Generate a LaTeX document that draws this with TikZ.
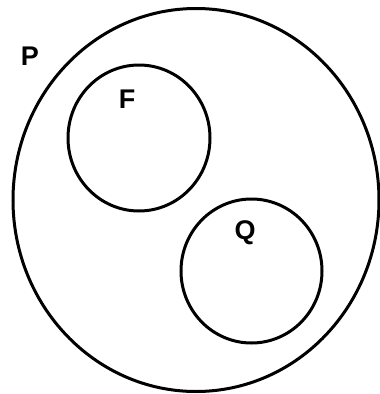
\documentclass[tikz,border=0pt]{standalone}
\usepackage{fontspec}
\setmainfont{Liberation Sans}
\usetikzlibrary{positioning,shapes.geometric}

\begin{document}
\begin{tikzpicture}[
  x=1pt, y=-1pt,
  set/.style={ellipse, draw=black, line width=3pt, inner sep=0pt},
  lbl/.style={font=\fontsize{27}{27}\selectfont\bfseries, inner sep=0pt},
]
  \useasboundingbox (0,0) rectangle (380,394);

  % Sets
  \node[set, minimum width=366pt, minimum height=383pt] (P) at (196,200) {};
  \node[set, minimum width=142pt, minimum height=146pt] (F) at (139,138) {};
  \node[set, minimum width=141pt, minimum height=144pt] (Q) at (251.5,271) {};

  % Labels
  \node[lbl] (lP) at (30,56) {P};
  \node[lbl] (lF) at (127,99) {F};
  \node[lbl] (lQ) at (245,233) {Q};
\end{tikzpicture}
\end{document}
